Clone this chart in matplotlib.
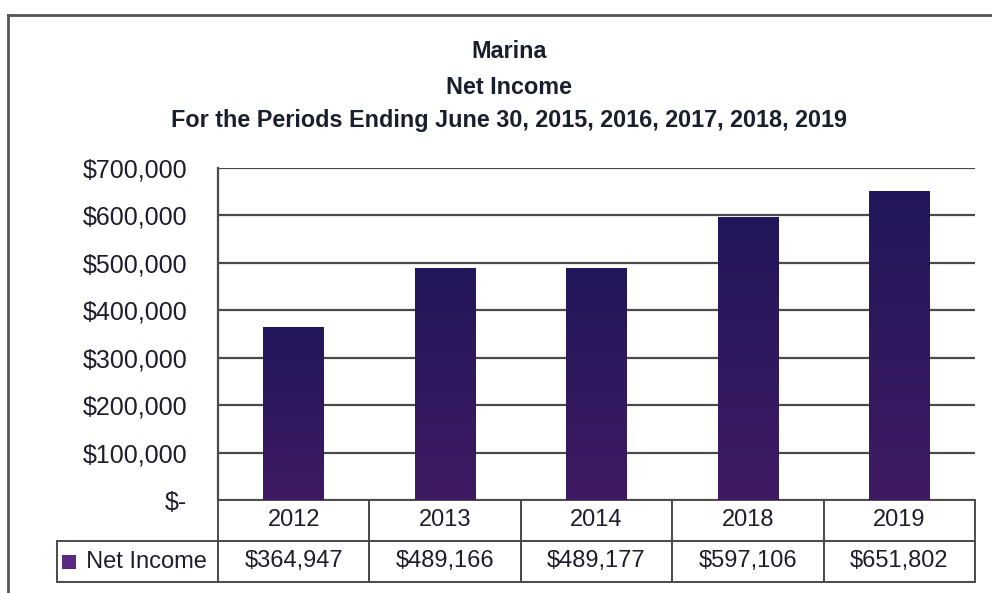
import matplotlib
matplotlib.use("Agg")
import matplotlib.pyplot as plt
import numpy as np
from matplotlib.lines import Line2D
from matplotlib.patches import Rectangle
from matplotlib.colors import LinearSegmentedColormap
from matplotlib.ticker import FuncFormatter, MultipleLocator

plt.rcParams['font.family'] = ['Liberation Sans', 'DejaVu Sans']

# Data
years = ["2012", "2013", "2014", "2018", "2019"]
net_income = [364947, 489166, 489177, 597106, 651802]
series_name = "Net Income"
title_lines = ["Marina", "Net Income",
               "For the Periods Ending June 30, 2015, 2016, 2017, 2018, 2019"]

W, H = 992, 593
fig = plt.figure(figsize=(W / 100, H / 100), dpi=100)
fig.patch.set_facecolor("white")

# plot area placement (pixels)
left_px, right_px, top_px, bottom_px = 218, 975, 168, 500
ax = fig.add_axes([left_px / W, 1 - bottom_px / H,
                   (right_px - left_px) / W, (bottom_px - top_px) / H])

text_color = "#1d1d2b"
grid_color = "#4a4a4a"
bar_top = "#22165a"
bar_bottom = "#3f1b63"
cmap = LinearSegmentedColormap.from_list("bar", [bar_bottom, bar_top])

x = np.arange(len(years))
bar_w = 0.40
bars = ax.bar(x, net_income, width=bar_w, color=bar_top, zorder=3, linewidth=0)
grad = np.linspace(0, 1, 256).reshape(-1, 1)
for b in bars:
    bx, by = b.get_x(), b.get_y()
    bw, bh = b.get_width(), b.get_height()
    im = ax.imshow(grad, cmap=cmap, origin="lower", aspect="auto",
                   extent=[bx, bx + bw, by, by + bh], zorder=4)
    im.set_clip_path(b)

ax.set_xlim(-0.5, len(years) - 0.5)
ax.set_ylim(0, 700000)
ax.yaxis.set_major_locator(MultipleLocator(100000))


def money(v, pos=None):
    if v == 0:
        return "$-"
    return "${:,.0f}".format(v)


ax.yaxis.set_major_formatter(FuncFormatter(money))
ax.tick_params(axis="y", length=0, pad=22, labelsize=18, labelcolor=text_color)
ax.tick_params(axis="x", length=0, labelbottom=False)
ax.grid(axis="y", color=grid_color, linewidth=1.6, zorder=1)
ax.set_axisbelow(True)
for s in ["top", "right", "bottom"]:
    ax.spines[s].set_visible(False)
ax.spines["left"].set_color(grid_color)
ax.spines["left"].set_linewidth(1.6)

# data table beneath the plot area (data cells span the plot width)
tab_left_px, tab_bottom_px = 57, 582
ax_w_px = right_px - left_px
ax_h_px = bottom_px - top_px
tab_h = (tab_bottom_px - bottom_px) / ax_h_px
tab = ax.table(cellText=[["${:,.0f}".format(v) for v in net_income]],
               colLabels=years, colWidths=[1 / len(years)] * len(years),
               cellLoc="center", bbox=[0, -tab_h, 1, tab_h])
row_h = tab[1, 0].get_height()
tab.add_cell(1, -1, width=(left_px - tab_left_px) / ax_w_px, height=row_h,
             text="  " + series_name, loc="left")
tab.auto_set_font_size(False)
tab.set_fontsize(17)
for cell in tab.get_celld().values():
    cell.set_edgecolor(grid_color)
    cell.set_linewidth(1.4)
    cell.set_facecolor("white")
    cell.get_text().set_color(text_color)
    cell.set_clip_on(False)
tab.set_clip_on(False)

# legend key inside the row label cell
fig.patches.append(Rectangle((62 / W, 1 - 569 / H), 14 / W, 14 / H,
                             transform=fig.transFigure, facecolor="#5a2a80",
                             edgecolor="none", zorder=5))

# chart titles
for txt, ypx in zip(title_lines, [52, 87, 121]):
    fig.text(509 / W, 1 - ypx / H, txt, ha="center", va="center",
             fontsize=16.8, fontweight="bold", color="#1a1f2e")

# outer chart frame
fig.add_artist(Line2D([8 / W, 8 / W], [0, 1 - 15 / H], transform=fig.transFigure,
                      color="#555555", linewidth=2))
fig.add_artist(Line2D([8 / W, 1], [1 - 15 / H, 1 - 15 / H], transform=fig.transFigure,
                      color="#555555", linewidth=2))

fig.savefig("out.png", dpi=100)
